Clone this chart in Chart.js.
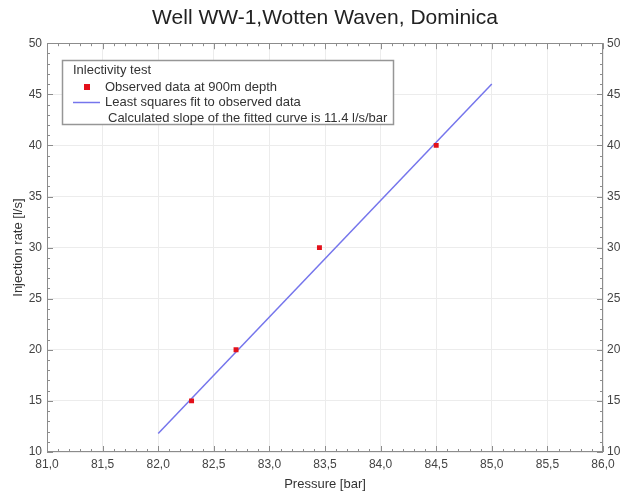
<!DOCTYPE html>
<html>
<head>
<meta charset="utf-8">
<script src="https://cdn.jsdelivr.net/npm/chart.js@4"></script>
<style>
  html, body { margin: 0; padding: 0; background: #fff; }
</style>
</head>
<body>
<canvas id="injectivity" width="626" height="495"></canvas>
<script>
// observed injection test at 900 m depth
const pressure = [82.3, 82.7, 83.45, 84.5];
const injectionRate = [15, 20, 30, 40];

// least squares line, slope 11.4 l/s/bar
const fitPressure = [82.0, 85.0];
const fitRate = [11.8, 46.0];

const legendTitle = "Inlectivity test";
const legendNote = "Calculated slope of the fitted curve is 11.4 l/s/bar";

const fontFamily = "'Liberation Sans', Arial, sans-serif";
Chart.defaults.font.family = fontFamily;
Chart.defaults.font.size = 12;
Chart.defaults.color = "#444";

const toComma = (v) => Number(v).toFixed(1).replace(".", ",");

// frame round the plot with inward major/minor ticks on all four sides
const frameTicks = {
  id: "frameTicks",
  afterDatasetsDraw(chart) {
    const { ctx, chartArea: a, scales } = chart;
    const x = scales.x;
    const y = scales.y;
    ctx.save();
    ctx.strokeStyle = "#8c8c8c";
    ctx.lineWidth = 1;
    ctx.beginPath();
    const xSteps = Math.round((x.max - x.min) / 0.1);
    for (let i = 0; i <= xSteps; i++) {
      const px = Math.round(x.getPixelForValue(x.min + i * 0.1)) + 0.5;
      const len = i % 5 === 0 ? 6 : 3;
      ctx.moveTo(px, a.bottom);
      ctx.lineTo(px, a.bottom - len);
      ctx.moveTo(px, a.top);
      ctx.lineTo(px, a.top + len);
    }
    for (let v = y.min; v <= y.max; v++) {
      const py = Math.round(y.getPixelForValue(v)) + 0.5;
      const len = v % 5 === 0 ? 6 : 3;
      ctx.moveTo(a.left, py);
      ctx.lineTo(a.left + len, py);
      ctx.moveTo(a.right, py);
      ctx.lineTo(a.right - len, py);
    }
    ctx.stroke();
    ctx.strokeRect(
      Math.round(a.left) + 0.5,
      Math.round(a.top) + 0.5,
      Math.round(a.width) - 1,
      Math.round(a.height) - 1
    );
    ctx.restore();
  },
};

// boxed legend inside the plot, upper left
const legendBox = {
  id: "legendBox",
  afterDraw(chart) {
    const { ctx, chartArea: a } = chart;
    const [obs, fit] = chart.data.datasets;
    const bx = Math.round(a.left) + 15;
    const by = Math.round(a.top) + 17;
    ctx.save();
    ctx.font = "13px " + fontFamily;
    const bw = Math.round(46 + ctx.measureText(legendNote).width + 6);
    const bh = 64;
    ctx.fillStyle = "#fff";
    ctx.fillRect(bx, by, bw, bh);
    ctx.strokeStyle = "#969696";
    ctx.lineWidth = 1.5;
    ctx.strokeRect(bx + 0.5, by + 0.5, bw, bh);

    ctx.fillStyle = "#333";
    ctx.textBaseline = "middle";
    ctx.fillText(legendTitle, bx + 11, by + 10);

    ctx.fillStyle = obs.backgroundColor;
    ctx.fillRect(bx + 22, by + 24, 6, 6);
    ctx.fillStyle = "#333";
    ctx.fillText(obs.label, bx + 43, by + 27);

    ctx.strokeStyle = fit.borderColor;
    ctx.lineWidth = fit.borderWidth;
    ctx.beginPath();
    ctx.moveTo(bx + 11, by + 42.5);
    ctx.lineTo(bx + 38, by + 42.5);
    ctx.stroke();
    ctx.fillText(fit.label, bx + 43, by + 42.5);

    ctx.fillText(legendNote, bx + 46, by + 58);
    ctx.restore();
  },
};

new Chart(document.getElementById("injectivity"), {
  type: "scatter",
  data: {
    datasets: [
      {
        label: "Observed data at 900m depth",
        data: pressure.map((p, i) => ({ x: p, y: injectionRate[i] })),
        pointStyle: "rect",
        pointRadius: 3.5,
        backgroundColor: "#e3101a",
        borderColor: "#e3101a",
        borderWidth: 0,
        order: 1,
      },
      {
        label: "Least squares fit to observed data",
        type: "line",
        data: fitPressure.map((p, i) => ({ x: p, y: fitRate[i] })),
        borderColor: "#7575ec",
        borderWidth: 1.5,
        pointRadius: 0,
        fill: false,
        order: 2,
      },
    ],
  },
  options: {
    responsive: false,
    animation: false,
    layout: { padding: 0 },
    plugins: {
      legend: { display: false },
      tooltip: { enabled: false },
      title: {
        display: true,
        text: "Well WW-1,Wotten Waven, Dominica",
        fullSize: false,
        color: "#222",
        font: { size: 21, weight: "normal" },
        padding: { top: 6, bottom: 12 },
      },
    },
    scales: {
      x: {
        type: "linear",
        min: 81,
        max: 86,
        ticks: { stepSize: 0.5, padding: 5, callback: toComma },
        grid: { color: "#ececec", drawTicks: false },
        border: { display: false },
        title: {
          display: true,
          text: "Pressure [bar]",
          color: "#333",
          font: { size: 13 },
          padding: { top: 0, bottom: 3 },
        },
        afterFit(scale) {
          scale.height = 43;
        },
      },
      y: {
        min: 10,
        max: 50,
        ticks: { stepSize: 5, padding: 5 },
        grid: { color: "#ececec", drawTicks: false },
        border: { display: false },
        title: {
          display: true,
          text: "Injection rate [l/s]",
          color: "#333",
          font: { size: 13 },
          padding: { top: 11, bottom: 0 },
        },
        afterFit(scale) {
          scale.width = 47;
        },
      },
      y2: {
        position: "right",
        min: 10,
        max: 50,
        ticks: { stepSize: 5, padding: 4 },
        grid: { display: false, drawTicks: false },
        border: { display: false },
        afterFit(scale) {
          scale.width = 23;
        },
      },
    },
  },
  plugins: [frameTicks, legendBox],
});
</script>
</body>
</html>
